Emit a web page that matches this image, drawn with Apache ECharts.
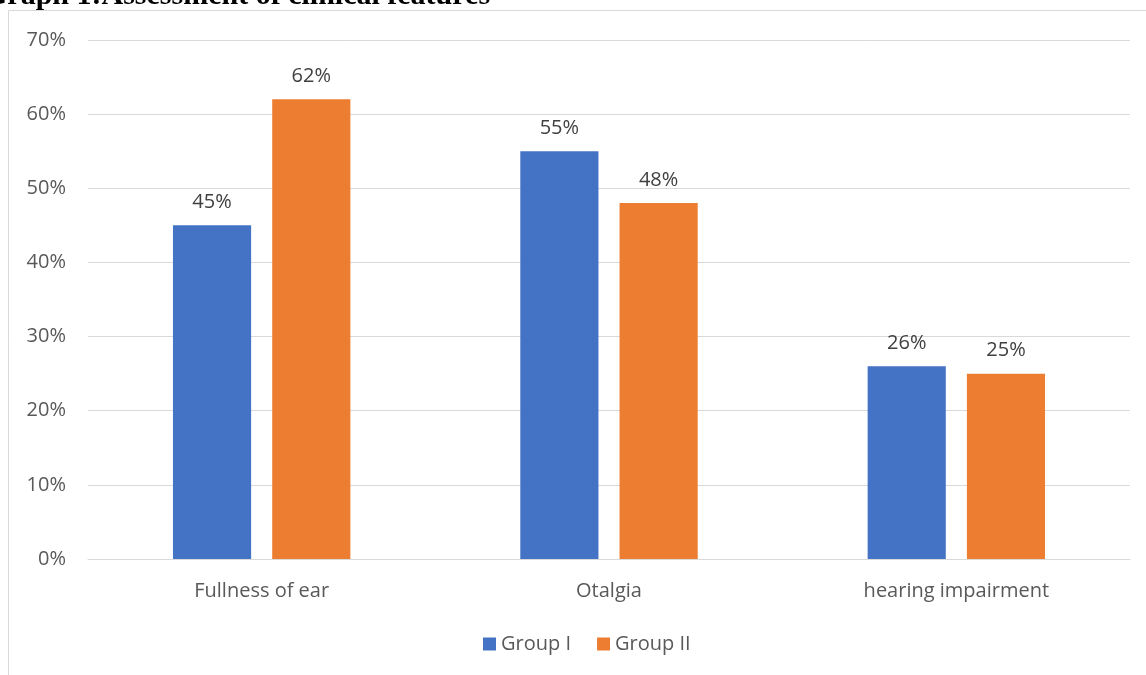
<!DOCTYPE html>
<html>
<head>
<meta charset="utf-8">
<script src="https://cdn.jsdelivr.net/npm/echarts@6/dist/echarts.min.js"></script>
<style>
  html, body { margin: 0; padding: 0; background: #fff; }
  #chart { width: 1146px; height: 675px; }
</style>
</head>
<body>
<div id="chart"></div>
<script>
const categories = ['Fullness of ear', 'Otalgia', 'hearing impairment']
const groupOne = [45, 55, 26]
const groupTwo = [62, 48, 25]
const seriesNames = ['Group I', 'Group II']

const textFont = '"Open Sans", sans-serif'
const labelColor = '#595959'

const chart = echarts.init(document.getElementById('chart'))

const option = {
  animation: false,
  backgroundColor: '#fff',
  graphic: [
    {
      type: 'rect',
      shape: { x: 8.5, y: 10.5, width: 1200, height: 700 },
      style: { fill: 'none', stroke: '#d9d9d9', lineWidth: 1 },
      z: 0
    },
    {
      type: 'text',
      x: -16,
      y: 11,
      style: {
        text: 'Graph 1:Assessment of clinical features',
        font: 'bold 30px "Liberation Serif", serif',
        fill: '#000',
        textVerticalAlign: 'bottom'
      },
      z: 10
    }
  ],
  color: ['#4472c4', '#ed7d31'],
  legend: {
    data: seriesNames,
    bottom: 16,
    left: 478,
    itemWidth: 13,
    itemHeight: 13,
    itemGap: 26,
    icon: 'rect',
    textStyle: { fontFamily: textFont, fontSize: 20, color: labelColor }
  },
  grid: { left: 88, right: 16, top: 40, bottom: 116 },
  xAxis: {
    type: 'category',
    data: categories,
    axisTick: { show: false },
    axisLine: { lineStyle: { color: '#d9d9d9' } },
    axisLabel: { fontFamily: textFont, fontSize: 20, color: labelColor, margin: 22 }
  },
  yAxis: {
    type: 'value',
    min: 0,
    max: 70,
    interval: 10,
    axisLabel: { formatter: '{value}%', fontFamily: textFont, fontSize: 20, color: labelColor, margin: 22 },
    splitLine: { lineStyle: { color: '#d9d9d9' } },
    axisLine: { show: false },
    axisTick: { show: false }
  },
  series: [
    {
      name: seriesNames[0],
      type: 'bar',
      data: groupOne,
      barWidth: '22.5%',
      barGap: '27%',
      label: { show: true, position: 'top', distance: 13, formatter: '{c}%', fontFamily: textFont, fontSize: 20, color: '#404040' }
    },
    {
      name: seriesNames[1],
      type: 'bar',
      data: groupTwo,
      barWidth: '22.5%',
      label: { show: true, position: 'top', distance: 13, formatter: '{c}%', fontFamily: textFont, fontSize: 20, color: '#404040' }
    }
  ]
}

chart.setOption(option)
</script>
</body>
</html>
